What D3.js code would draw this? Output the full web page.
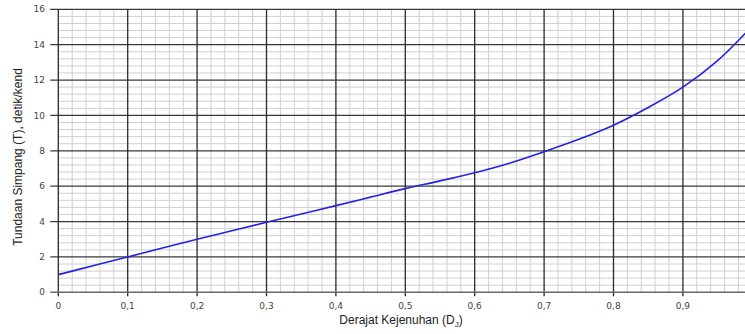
<!DOCTYPE html>
<meta charset="utf-8">
<style>
  body { margin: 0; background: #fff; }
  svg { display: block; }
  .tick-label { font-family: "DejaVu Sans", Verdana, sans-serif; font-size: 9px; fill: #444; }
  .axis-title { font-family: "Liberation Sans", Arial, sans-serif; font-size: 12px; fill: #222; }
</style>
<script src="https://d3js.org/d3.v7.min.js"></script>
<body>
<div id="chart"></div>
<script>
// values
var degree = [0, 0.05, 0.1, 0.15, 0.2, 0.25, 0.3, 0.35, 0.4, 0.45, 0.5, 0.55, 0.6, 0.65, 0.7, 0.75, 0.8, 0.85, 0.9, 0.95, 0.99];
var delay  = [1.0, 1.5, 2.0, 2.5, 3.0, 3.48, 3.96, 4.43, 4.9, 5.38, 5.86, 6.3, 6.76, 7.3, 7.95, 8.65, 9.45, 10.45, 11.6, 13.1, 14.65];
var xTicks = [0, 0.1, 0.2, 0.3, 0.4, 0.5, 0.6, 0.7, 0.8, 0.9];
var yTicks = [0, 2, 4, 6, 8, 10, 12, 14, 16];

var W = 745, H = 334;
var plotLeft = 58.3, plotTop = 9.3, plotBottom = 292.3;

var svg = d3.select("#chart").append("svg")
    .attr("width", W).attr("height", H);

var x = d3.scaleLinear().domain([0, 1]).range([plotLeft, plotLeft + 694]);
var y = d3.scaleLinear().domain([0, 16]).range([plotBottom, plotTop]);

// minor grid
var minorX = d3.range(0, 1.0001, 0.02).filter(function(d) { return Math.abs(d * 10 - Math.round(d * 10)) > 1e-6; });
var minorY = d3.range(0, 16.0001, 0.4).filter(function(d) { return Math.abs(d / 2 - Math.round(d / 2)) > 1e-6; });

svg.append("g").selectAll("line").data(minorX).enter().append("line")
    .attr("x1", d => x(d)).attr("x2", d => x(d))
    .attr("y1", plotTop).attr("y2", plotBottom)
    .attr("stroke", "#cfcfcf").attr("stroke-width", 1);
svg.append("g").selectAll("line").data(minorY).enter().append("line")
    .attr("x1", plotLeft).attr("x2", W)
    .attr("y1", d => y(d)).attr("y2", d => y(d))
    .attr("stroke", "#cfcfcf").attr("stroke-width", 1);

// major grid
svg.append("g").selectAll("line").data(yTicks.slice(1)).enter().append("line")
    .attr("x1", plotLeft - 8).attr("x2", W)
    .attr("y1", d => y(d)).attr("y2", d => y(d))
    .attr("stroke", "#3a3a3a").attr("stroke-width", 1.2);
svg.append("g").selectAll("line").data(xTicks).enter().append("line")
    .attr("x1", d => x(d)).attr("x2", d => x(d))
    .attr("y1", plotTop).attr("y2", plotBottom + 4)
    .attr("stroke", "#2a2a2a").attr("stroke-width", 1.3);

// bottom axis line
svg.append("line")
    .attr("x1", plotLeft - 8).attr("x2", W)
    .attr("y1", plotBottom).attr("y2", plotBottom)
    .attr("stroke", "#6a6a6a").attr("stroke-width", 1.6);

// tick labels
svg.append("g").selectAll("text").data(yTicks).enter().append("text")
    .attr("class", "tick-label")
    .attr("x", 45).attr("y", d => y(d))
    .attr("dy", "0.35em")
    .attr("text-anchor", "end")
    .text(d => d);
svg.append("g").selectAll("text").data(xTicks).enter().append("text")
    .attr("class", "tick-label")
    .attr("x", d => x(d)).attr("y", 309)
    .attr("text-anchor", "middle")
    .text(d => d === 0 ? "0" : String(d).replace(".", ","));

// curve
var line = d3.line()
    .x(d => x(d[0])).y(d => y(d[1]))
    .curve(d3.curveCatmullRom);
svg.append("path")
    .datum(degree.map((d, i) => [d, delay[i]]))
    .attr("d", line)
    .attr("fill", "none")
    .attr("stroke", "#2323dc")
    .attr("stroke-width", 1.6);

// axis titles
var xt = svg.append("text").attr("class", "axis-title")
    .attr("x", 401).attr("y", 324).attr("text-anchor", "middle");
xt.append("tspan").text("Derajat Kejenuhan (D");
xt.append("tspan").attr("font-size", "8px").attr("dy", 3).text("J");
xt.append("tspan").attr("dy", -3).text(")");

svg.append("text").attr("class", "axis-title")
    .attr("transform", "translate(22,157) rotate(-90)")
    .attr("text-anchor", "middle")
    .text("Tundaan Simpang (T), detik/kend");
</script>
</body>
